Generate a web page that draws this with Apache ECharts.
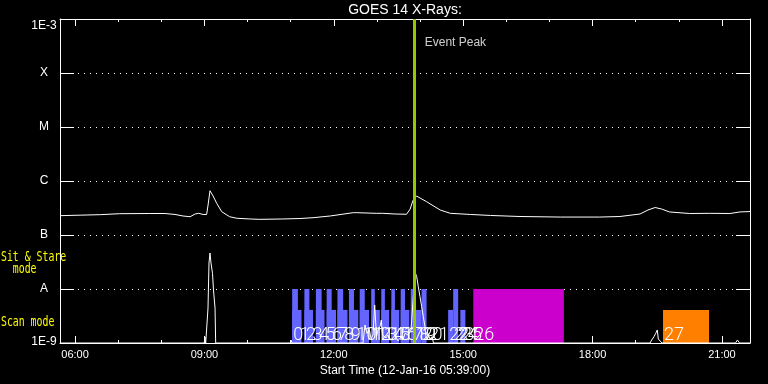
<!DOCTYPE html>
<html><head><meta charset="utf-8">
<script src="https://cdn.jsdelivr.net/npm/echarts@6/dist/echarts.min.js"></script>
<style>html,body{margin:0;padding:0;background:#000}#c{width:768px;height:384px}</style>
</head><body><div id="c"></div>
<script>
const DAY = '2016-01-12';
const xRange = ['05:39:00', '21:39:00'];
const majorTicks = ['06:00','09:00','12:00','15:00','18:00','21:00'];
const hourTicks = ['06:00','07:00','08:00','09:00','10:00','11:00','12:00','13:00','14:00','15:00','16:00','17:00','18:00','19:00','20:00','21:00'];
const yLevelLabels = ['1E-9','A','B','C','M','X','1E-3'];

// GOES 14 long-channel flux (W/m^2)
const goesTimes = ['05:39','06:07','06:35','07:02','07:44','08:05','08:19','08:30','08:40','08:47','08:52','08:58','09:03','09:05','09:07:40','09:12','09:17','09:24','09:35','09:45','10:03','10:17','10:49','11:13','11:31','11:55','11:57','12:27','12:32','12:59','13:08','13:25','13:41','13:46','13:50','13:55','14:09','14:28','14:42','15:10','15:38','16:19','17:15','18:10','18:38','19:06','19:17','19:27','19:36','19:47','20:15','20:43','21:11','21:25','21:39'];
const goesFlux = [2.28e-7,2.33e-7,2.38e-7,2.48e-7,2.50e-7,2.50e-7,2.40e-7,2.25e-7,2.18e-7,2.45e-7,2.52e-7,2.40e-7,2.40e-7,3.59e-7,6.61e-7,5.27e-7,3.86e-7,2.70e-7,2.18e-7,2.04e-7,1.98e-7,1.95e-7,1.98e-7,2.02e-7,2.09e-7,2.25e-7,2.42e-7,2.59e-7,2.59e-7,2.52e-7,2.52e-7,2.45e-7,2.42e-7,2.99e-7,4.32e-7,5.27e-7,4.14e-7,2.90e-7,2.52e-7,2.40e-7,2.30e-7,2.20e-7,2.15e-7,2.15e-7,2.20e-7,2.45e-7,2.90e-7,3.23e-7,3.03e-7,2.67e-7,2.50e-7,2.52e-7,2.50e-7,2.67e-7,2.72e-7];

// lower trace (relative units, 0-100)
const lowTimes = ['05:39:00','08:59:39','09:00:46','09:01:44','09:03:31','09:04:55','09:06:18','09:07:42','09:09:05','09:11:10','09:12:33','09:14:42','09:15:36','11:00:00','11:00:23','11:01:47','12:40:35','12:43:20','12:46:07','12:49:36','12:51:41','12:54:28','12:56:50','12:59:19','13:01:25','13:04:12','13:06:00','13:07:40','13:09:46','13:12:33','13:15:20','13:18:07','13:20:54','13:25:05','13:29:15','13:33:26','13:36:13','13:39:00','13:43:10','13:47:21','13:50:08','13:52:55','13:55:17','13:57:30','13:59:52','14:02:13','14:04:27','14:06:50','14:08:13','14:10:02','14:11:42','14:13:47','14:16:34','14:18:38','19:19:52','19:22:14','19:25:26','19:27:50','19:30:02','19:31:26','19:33:47','19:36:34','21:18:49','21:21:35','21:24:22','21:39:00'];
const lowValues = [0,0,6.5,0,0,37.6,86,96.8,86,75,57,37.6,0,0,3.2,0,0,19.4,10.4,14,4.3,8.6,40.9,6.8,14,17.5,24.7,8.6,10.4,5.4,8.6,3.2,4.3,8.6,2.2,6.8,3.2,10.4,8.6,14,45,76.3,71.3,60.5,49.8,39,28.3,17.5,6.8,3.2,8.6,4.3,6.8,0,0,3.2,6.8,10.4,14,4.3,3.2,0,0,3.2,0,0];

// observation timeline
const tallStart = ['11:02','11:19','11:35','11:50','12:05','12:21','12:36','12:52','13:06','13:20','13:33','13:47','14:02','14:46'];
const tallEnd   = ['11:10','11:26','11:43','11:57','12:13','12:28','12:43','12:57','13:11','13:25','13:39','13:53','14:09','14:53'];
const shortStart = ['11:02','11:19','11:35','11:50','12:05','12:21','12:36','12:52','13:06','13:20','13:33','13:47','14:39','14:56'];
const shortEnd   = ['11:15','11:31','11:47','12:03','12:19','12:34','12:49','13:04','13:17','13:31','13:45','14:02','14:46','15:03'];
const sitStareStart = ['15:14'], sitStareEnd = ['17:20'];
const fixedStart = ['19:38'], fixedEnd = ['20:42'];
const obsNumbers = [0,1,2,3,4,5,6,7,8,9,10,11,12,13,14,15,16,17,18,19,20,21,22,23,24,25,26,27];
const obsStart = ['11:02','11:11','11:20','11:29','11:38','11:47','11:56','12:04','12:13','12:22','12:30','12:40','12:50','12:59','13:08','13:17','13:26','13:35','13:44','13:53','14:02','14:11','14:39','14:46','14:51','14:57','15:14','19:38'];
const peakTime = '13:52:30';

const tallLevel = 1e-8, shortLevel = 4.1e-9, baseLevel = 1e-9, eventLabelLevel = 3.67e-4;

const t = s => +new Date(DAY + 'T' + (s.length === 5 ? s + ':00' : s));
const FONT = 'Liberation Sans';

function barSeries(starts, ends, level, color) {
  return {
    type: 'custom', xAxisIndex: 0, yAxisIndex: 0, z: 1, silent: true, clip: true,
    data: starts.map((s, i) => [t(s), t(ends[i]), level]),
    encode: { x: [0, 1], y: 2 },
    renderItem: (params, api) => {
      const p0 = api.coord([api.value(0), api.value(2)]);
      const p1 = api.coord([api.value(1), baseLevel]);
      return { type: 'rect', shape: { x: p0[0], y: p0[1], width: p1[0] - p0[0], height: p1[1] - p0[1] }, style: { fill: color } };
    }
  };
}

const chart = echarts.init(document.getElementById('c'), null, { renderer: 'canvas' });
const xMin = t(xRange[0]), xMax = t(xRange[1]);
const white = '#ffffff';
function xAx(pos, ticks, len, extra) {
  return Object.assign({
    type: 'time', gridIndex: 0, position: pos, min: xMin, max: xMax,
    axisLine: { show: true, onZero: false, lineStyle: { color: white, width: 1 } },
    axisTick: { show: true, inside: true, length: len, customValues: ticks.map(t), lineStyle: { color: white } },
    axisLabel: { show: false },
    splitLine: { show: false }
  }, extra || {});
}
const option = {
  backgroundColor: '#000',
  animation: false,
  title: { text: 'GOES 14 X-Rays:', left: 405, textAlign: 'center', top: 3, padding: 0,
    textStyle: { color: white, fontSize: 14, fontWeight: 'normal', fontFamily: FONT } },
  grid: [
    { left: 60, right: 18, top: 19, bottom: 41, outerBoundsMode: 'none', containLabel: false },
    { left: 60, right: 18, top: 250, bottom: 41, outerBoundsMode: 'none', containLabel: false }
  ],
  xAxis: [
    xAx('bottom', majorTicks, 7, {
      axisLabel: { show: true, customValues: majorTicks.map(t), formatter: '{HH}:{mm}', color: white, fontSize: 11, fontFamily: FONT, margin: 6 },
      name: 'Start Time (12-Jan-16 05:39:00)', nameLocation: 'middle', nameGap: 18,
      nameTextStyle: { color: white, fontSize: 12, fontFamily: FONT }
    }),
    xAx('bottom', hourTicks, 3, { axisLine: { show: false } }),
    xAx('top', majorTicks, 7),
    xAx('top', hourTicks, 3, { axisLine: { show: false } }),
    { type: 'time', gridIndex: 1, min: xMin, max: xMax, show: false }
  ],
  yAxis: [
    { type: 'log', logBase: 10, gridIndex: 0, min: 1e-9, max: 1e-3, splitNumber: 6, position: 'left',
      axisLine: { show: true, lineStyle: { color: white } },
      axisTick: { show: true, inside: true, length: 14, lineStyle: { color: white } },
      axisLabel: { show: true, color: white, fontSize: 12, fontFamily: FONT, align: 'center', margin: 16,
        formatter: v => {
          const e = Math.round(Math.log10(v));
          const s = yLevelLabels[e + 9];
          if (e === -3) return '{hi|' + s + '}';
          if (e === -9) return '{lo|' + s + '}';
          return s;
        },
        rich: {
          hi: { padding: [14, 0, 0, 0], color: white, fontSize: 12, fontFamily: FONT },
          lo: { padding: [0, 0, 2, 0], color: white, fontSize: 12, fontFamily: FONT }
        }
      },
      splitLine: { show: true, lineStyle: { color: white, width: 1, type: [1, 5] } }
    },
    { type: 'log', logBase: 10, gridIndex: 0, min: 1e-9, max: 1e-3, splitNumber: 6, position: 'right',
      axisLine: { show: true, lineStyle: { color: white } },
      axisTick: { show: true, inside: true, length: 14, lineStyle: { color: white } },
      axisLabel: { show: false }, splitLine: { show: false } },
    { type: 'value', gridIndex: 1, min: 0, max: 100, show: false }
  ],
  graphic: [
    { type: 'text', x: 1, y: 252, scaleX: 0.82, scaleY: 1.1, z: 10,
      style: { text: 'Sit & Stare\n  mode', fill: '#ffff00', font: '12px "DejaVu Sans Mono"', lineHeight: 10.9, verticalAlign: 'top' } },
    { type: 'text', x: 1, y: 317, scaleX: 0.82, scaleY: 1.1, z: 10,
      style: { text: 'Scan mode', fill: '#ffff00', font: '12px "DejaVu Sans Mono"', lineHeight: 10.9, verticalAlign: 'top' } }
  ],
  series: [
    barSeries(shortStart, shortEnd, shortLevel, '#6464ff'),
    barSeries(tallStart, tallEnd, tallLevel, '#6464ff'),
    barSeries(sitStareStart, sitStareEnd, tallLevel, '#cc00cc'),
    barSeries(fixedStart, fixedEnd, shortLevel, '#ff8000'),
    { type: 'line', xAxisIndex: 4, yAxisIndex: 2, z: 2, silent: true, showSymbol: false,
      data: lowTimes.map((s, i) => [t(s), lowValues[i]]),
      lineStyle: { color: white, width: 1 } },
    { type: 'custom', xAxisIndex: 0, yAxisIndex: 0, z: 3, silent: true,
      data: obsStart.map((s, i) => [t(s), baseLevel, obsNumbers[i]]),
      encode: { x: 0, y: 1 },
      renderItem: (params, api) => {
        const p = api.coord([api.value(0), api.value(1)]);
        return { type: 'text', x: p[0] + 1, y: p[1] + 1,
          style: { text: String(api.value(2)), fill: white, font: '300 18px Roboto', align: 'left', verticalAlign: 'bottom' } };
      } },
    { type: 'line', xAxisIndex: 0, yAxisIndex: 0, z: 4, silent: true, showSymbol: false,
      data: goesTimes.map((s, i) => [t(s), goesFlux[i]]),
      lineStyle: { color: white, width: 1 } },
    { type: 'scatter', xAxisIndex: 0, yAxisIndex: 0, z: 5, silent: true, symbolSize: 0,
      data: [[t(peakTime), eventLabelLevel]],
      label: { show: true, position: 'right', distance: 10, formatter: 'Event Peak', color: white, fontSize: 12, fontFamily: FONT },
      markLine: { silent: true, symbol: 'none', label: { show: false },
        lineStyle: { color: '#96c800', width: 3, type: 'solid' },
        data: [{ xAxis: t(peakTime) }] } }
  ]
};
chart.setOption(option);
</script></body></html>
